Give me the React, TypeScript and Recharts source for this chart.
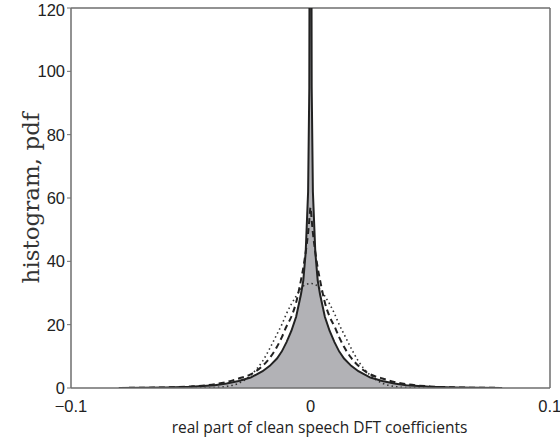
import { ComposedChart, Area, Line, XAxis, YAxis, ReferenceLine } from "recharts";

// sample positions (real part of DFT coefficient), symmetric about zero
const xs = [
  -0.08, -0.07, -0.06, -0.05, -0.04, -0.035, -0.03, -0.025, -0.02, -0.017, -0.014, -0.012, -0.01,
  -0.008, -0.006, -0.004, -0.003, -0.002, -0.001, -0.0005, 0, 0.0005, 0.001, 0.002, 0.003, 0.004,
  0.006, 0.008, 0.01, 0.012, 0.014, 0.017, 0.02, 0.025, 0.03, 0.035, 0.04, 0.05, 0.06, 0.07, 0.08,
];

// grey histogram of the data
const histogram = [
  0, 0.1, 0.2, 0.5, 1, 1.5, 2.2, 3.4, 5.2, 7, 9, 11, 14, 17.5, 22.5, 31, 36, 44, 62, 95, 200,
  95, 62, 44, 36, 31, 22.5, 17.5, 14, 11, 9, 7, 5.2, 3.4, 2.2, 1.5, 1, 0.5, 0.2, 0.1, 0,
];

// solid: heavy-tailed pdf fit
const solidPdf = [
  0, 0.05, 0.15, 0.4, 0.9, 1.4, 2.2, 3.3, 5.3, 7, 9.3, 11.5, 14.5, 18, 22.5, 29.5, 34, 43, 62, 95, 300,
  95, 62, 43, 34, 29.5, 22.5, 18, 14.5, 11.5, 9.3, 7, 5.3, 3.3, 2.2, 1.4, 0.9, 0.4, 0.15, 0.05, 0,
];

// dashed: Laplacian pdf
const laplacePdf = [
  0.03, 0.08, 0.2, 0.5, 1.2, 1.9, 3, 4.3, 7, 9.5, 13, 16, 19.5, 22.5, 27, 34, 38, 43, 49, 53, 57,
  53, 49, 43, 38, 34, 27, 22.5, 19.5, 16, 13, 9.5, 7, 4.3, 3, 1.9, 1.2, 0.5, 0.2, 0.08, 0.03,
];

// dotted: Gaussian pdf
const gaussPdf = [
  0, 0, 0, 0, 0.15, 0.5, 1.5, 4, 8.5, 12.5, 17, 20, 23.5, 26.5, 29, 31.3, 32.2, 32.6, 32.9, 33, 33,
  33, 32.9, 32.6, 32.2, 31.3, 29, 26.5, 23.5, 20, 17, 12.5, 8.5, 4, 1.5, 0.5, 0.15, 0, 0, 0, 0,
];

const xTicks = [-0.1, 0, 0.1];
const yTicks = [0, 20, 40, 60, 80, 100, 120];

const data = xs.map((x, i) => ({
  x,
  hist: histogram[i],
  solid: solidPdf[i],
  dashed: laplacePdf[i],
  dotted: gaussPdf[i],
}));

const axisColor = "#6e6e6e";
const tickStyle = { fontSize: 16.5, fill: "#222", fontFamily: "Liberation Sans, Arial, sans-serif" };

export default function App() {
  return (
    <div style={{ position: "absolute", left: 0, top: 0, width: 560, height: 441, background: "#fff" }}>
      <ComposedChart width={560} height={441} data={data} margin={{ top: 8, right: 10, left: 0, bottom: 0 }}>
        <XAxis
          dataKey="x"
          type="number"
          domain={[-0.1, 0.1]}
          ticks={xTicks}
          allowDataOverflow
          tickFormatter={(v: number) => (v < 0 ? "\u22120.1" : String(v))}
          tick={{ ...tickStyle, dy: 4 }}
          tickLine={false}
          axisLine={{ stroke: axisColor, strokeWidth: 1.5 }}
          height={53}
          label={{
            value: "real part of clean speech DFT coefficients",
            position: "insideBottom",
            offset: 8,
            dx: 9,
            style: { fontSize: 15.5, fill: "#222", fontFamily: "Open Sans, sans-serif", textAnchor: "middle" },
          }}
        />
        <YAxis
          type="number"
          domain={[0, 120]}
          ticks={yTicks}
          allowDataOverflow
          tick={tickStyle}
          tickSize={4}
          tickLine={{ stroke: axisColor }}
          axisLine={{ stroke: axisColor, strokeWidth: 1.5 }}
          width={71}
          label={{
            value: "histogram, pdf",
            angle: -90,
            position: "insideLeft",
            offset: 22,
            dx: 9,
            style: { fontSize: 23, fill: "#333", fontFamily: "DejaVu Serif, serif", textAnchor: "middle" },
          }}
        />
        <ReferenceLine y={120} stroke={axisColor} strokeWidth={1.5} />
        <ReferenceLine x={0.1} stroke={axisColor} strokeWidth={1.5} />
        <Area
          type="linear"
          dataKey="hist"
          stroke="none"
          fill="#b2b2b6"
          fillOpacity={1}
          isAnimationActive={false}
        />
        <Line
          type="monotone"
          dataKey="dotted"
          stroke="#333"
          strokeWidth={1.6}
          strokeDasharray="1.5 3"
          dot={false}
          isAnimationActive={false}
        />
        <Line
          type="monotone"
          dataKey="dashed"
          stroke="#222"
          strokeWidth={2}
          strokeDasharray="6 4"
          dot={false}
          isAnimationActive={false}
        />
        <Line
          type="linear"
          dataKey="solid"
          stroke="#222"
          strokeWidth={2}
          dot={false}
          isAnimationActive={false}
        />
      </ComposedChart>
    </div>
  );
}
